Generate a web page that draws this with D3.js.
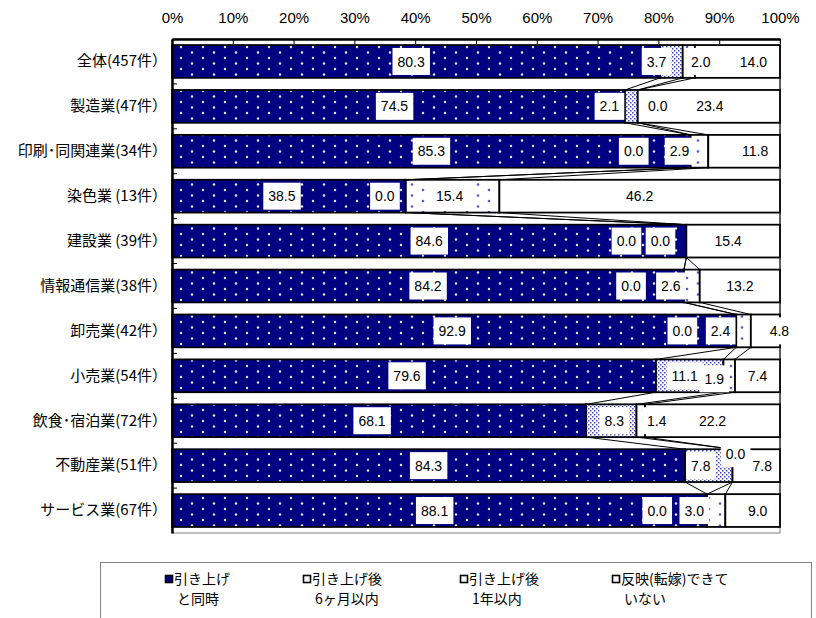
<!DOCTYPE html>
<html>
<head>
<meta charset="utf-8">
<script src="https://cdn.jsdelivr.net/npm/d3@7"></script>
<style>
  body { margin: 0; background: #fff; }
  svg { display: block; }
</style>
</head>
<body>
<svg id="chart" width="816" height="618"></svg>
<script>
// Industries (number of responses)
const categories = [
  "全体(457件）", "製造業(47件）", "印刷･同関連業(34件）", "染色業 (13件）",
  "建設業 (39件）", "情報通信業(38件）", "卸売業(42件）", "小売業(54件）",
  "飲食･宿泊業(72件）", "不動産業(51件）", "サービス業(67件）"
];

// Share of respondents (%) by timing of the price pass-through
const sameTime      = [80.3, 74.5, 85.3, 38.5, 84.6, 84.2, 92.9, 79.6, 68.1, 84.3, 88.1];
const within6Months = [ 3.7,  2.1,  0.0,  0.0,  0.0,  0.0,  0.0, 11.1,  8.3,  7.8,  0.0];
const within1Year   = [ 2.0,  0.0,  2.9, 15.4,  0.0,  2.6,  2.4,  1.9,  1.4,  0.0,  3.0];
const notPassed     = [14.0, 23.4, 11.8, 46.2, 15.4, 13.2,  4.8,  7.4, 22.2,  7.8,  9.0];

const seriesKeys  = ["sameTime", "within6Months", "within1Year", "notPassed"];
const seriesNames = [
  ["引き上げ", "と同時"],
  ["引き上げ後", "6ヶ月以内"],
  ["引き上げ後", "1年以内"],
  ["反映(転嫁)できて", "いない"]
];

const tickValues = [0, 10, 20, 30, 40, 50, 60, 70, 80, 90, 100];

// Hand-placed offsets [dx, dy] (px) for the value labels, so small segments stay readable
const labelNudge = [
  [[-5, 0], [-15, 0], [12, 0], [16, 0]],
  [[-4, 0], [-22, 0], [20, 0], [1, 0]],
  [[0, 0], [-57, 0], [-20, 0], [11, 0]],
  [[-7, 0], [-21, 0], [-3, 0], [0, 0]],
  [[0, 0], [-60, 0], [-26, 0], [-5, 0]],
  [[0, 0], [-53, 0], [-21, 0], [0, 0]],
  [[-2, 0], [-54, 0], [-23, 0], [14, 0]],
  [[-7, 0], [-5, 0], [-15, 3], [0, 0]],
  [[-7, 0], [3, 0], [16, 0], [0, 0]],
  [[0, 0], [-8, 0], [3, -12], [6, 0]],
  [[-5, 0], [-50, 0], [-22, 0], [5, 0]]
];

const rows = categories.map((c, i) => ({
  category: c,
  sameTime: sameTime[i],
  within6Months: within6Months[i],
  within1Year: within1Year[i],
  notPassed: notPassed[i]
}));

const svg = d3.select("#chart");
const numFont = "'Liberation Sans Narrow', 'Liberation Sans', Arial, sans-serif";
const jpFont = "'Noto Sans CJK JP', sans-serif";

const x = d3.scaleLinear().domain([0, 1]).range([172, 780]);
const y = d3.scaleBand().domain(categories).range([39, 533])
  .paddingInner(0.27).paddingOuter(0.135);

// Fill patterns for the four series
const defs = svg.append("defs");
const p1 = defs.append("pattern").attr("id", "pat0").attr("patternUnits", "userSpaceOnUse")
  .attr("width", 22).attr("height", 11);
p1.append("rect").attr("width", 22).attr("height", 11).attr("fill", "#000080");
p1.append("circle").attr("cx", 5).attr("cy", 3).attr("r", 1.2).attr("fill", "#e8e8ff");
p1.append("circle").attr("cx", 16).attr("cy", 8.5).attr("r", 1.2).attr("fill", "#e8e8ff");

const p2 = defs.append("pattern").attr("id", "pat1").attr("patternUnits", "userSpaceOnUse")
  .attr("width", 4).attr("height", 4);
p2.append("rect").attr("width", 4).attr("height", 4).attr("fill", "#ffffff");
p2.append("rect").attr("x", 0).attr("y", 0).attr("width", 1.5).attr("height", 1.5).attr("fill", "#4646c0");
p2.append("rect").attr("x", 2).attr("y", 2).attr("width", 1.5).attr("height", 1.5).attr("fill", "#4646c0");

const p3 = defs.append("pattern").attr("id", "pat2").attr("patternUnits", "userSpaceOnUse")
  .attr("width", 22).attr("height", 11);
p3.append("rect").attr("width", 22).attr("height", 11).attr("fill", "#ffffff");
p3.append("circle").attr("cx", 5).attr("cy", 3).attr("r", 1.3).attr("fill", "#5a5ad8");
p3.append("circle").attr("cx", 16).attr("cy", 8.5).attr("r", 1.3).attr("fill", "#5a5ad8");

const fills = ["url(#pat0)", "url(#pat1)", "url(#pat2)", "#ffffff"];

// Plot area frame
svg.append("rect")
  .attr("x", x(0)).attr("y", 39)
  .attr("width", x(1) - x(0)).attr("height", 533 - 39)
  .attr("fill", "none").attr("stroke", "#808080").attr("stroke-width", 1);

// 100% stacked layout
const stack = d3.stack().keys(seriesKeys).offset(d3.stackOffsetExpand);
const series = stack(rows);
const bw = y.bandwidth();

// Bars
svg.append("g").selectAll("g")
  .data(series)
  .join("g")
  .attr("fill", (d, i) => fills[i])
  .selectAll("rect")
  .data(d => d)
  .join("rect")
  .attr("x", d => x(d[0]))
  .attr("y", d => y(d.data.category))
  .attr("width", d => x(d[1]) - x(d[0]))
  .attr("height", bw)
  .attr("stroke", "#000")
  .attr("stroke-width", 1.8);

// Series lines linking segment boundaries of adjacent bars
const connectors = [];
series.forEach(s => {
  for (let i = 0; i < s.length - 1; i++) {
    connectors.push({
      x1: x(s[i][1]), y1: y(s[i].data.category) + bw,
      x2: x(s[i + 1][1]), y2: y(s[i + 1].data.category)
    });
  }
});
svg.append("g").selectAll("line")
  .data(connectors)
  .join("line")
  .attr("x1", d => d.x1).attr("y1", d => d.y1)
  .attr("x2", d => d.x2).attr("y2", d => d.y2)
  .attr("stroke", "#000").attr("stroke-width", 1);

// Top percentage axis
const xAxis = d3.axisTop(x)
  .tickValues(tickValues.map(v => v / 100))
  .tickFormat(d3.format(".0%"))
  .tickSize(-5).tickSizeOuter(0).tickPadding(16);
const gx = svg.append("g").attr("transform", "translate(0,39)").call(xAxis);
gx.select(".domain").attr("stroke", "#000").attr("stroke-width", 2.5);
gx.selectAll(".tick line").attr("stroke", "#000").attr("stroke-width", 1);
gx.selectAll(".tick text")
  .attr("fill", "#000")
  .style("font-family", numFont).style("font-size", "15px");

// Category axis with labels
const yAxis = d3.axisLeft(y).tickSize(0).tickPadding(5);
const gy = svg.append("g").attr("transform", `translate(${x(0)},0)`).call(yAxis);
gy.select(".domain").attr("stroke", "#000").attr("stroke-width", 2.5);
gy.selectAll(".tick text")
  .attr("fill", "#000")
  .style("font-family", jpFont).style("font-size", "15px");

// Category boundary ticks
const gap = y.step() * y.paddingInner();
const boundaries = categories.slice(1).map(c => y(c) - gap / 2);
svg.append("g").selectAll("line")
  .data(boundaries)
  .join("line")
  .attr("x1", x(0)).attr("x2", x(0) + 5)
  .attr("y1", d => d).attr("y2", d => d)
  .attr("stroke", "#000").attr("stroke-width", 1);

// Value labels on white boxes
const fmt = d3.format(".1f");
const labelData = [];
series.forEach((s, k) => {
  s.forEach((d, i) => {
    const nudge = labelNudge[i][k];
    labelData.push({
      text: fmt(rows[i][seriesKeys[k]]),
      cx: (x(d[0]) + x(d[1])) / 2 + nudge[0],
      cy: y(d.data.category) + bw / 2 + nudge[1]
    });
  });
});
const lg = svg.append("g").selectAll("g")
  .data(labelData)
  .join("g")
  .attr("transform", d => `translate(${d.cx},${d.cy})`);
lg.append("rect")
  .attr("fill", "#fff");
lg.append("text")
  .attr("text-anchor", "middle")
  .attr("dy", "0.36em")
  .style("font-family", numFont).style("font-size", "14px")
  .attr("fill", "#000")
  .text(d => d.text);
lg.each(function () {
  const g = d3.select(this);
  const bb = g.select("text").node().getBBox();
  g.select("rect")
    .attr("x", bb.x - 5).attr("y", -13.5)
    .attr("width", bb.width + 10).attr("height", 27);
});

// Legend
svg.append("rect")
  .attr("x", 100.5).attr("y", 562.5).attr("width", 711).attr("height", 70)
  .attr("fill", "#fff").attr("stroke", "#808080").attr("stroke-width", 1);
const legendX = [165, 303, 460, 612];
const legend = svg.append("g").selectAll("g")
  .data(seriesNames)
  .join("g")
  .attr("transform", (d, i) => `translate(${legendX[i]},0)`);
legend.append("rect")
  .attr("x", 0.5).attr("y", 575.5).attr("width", 7).attr("height", 7)
  .attr("fill", (d, i) => i === 0 ? "#000080" : "#fff")
  .attr("stroke", "#000").attr("stroke-width", 1.6);
legend.append("text")
  .attr("x", 9).attr("y", 584)
  .style("font-family", jpFont).style("font-size", "14px")
  .attr("fill", "#000")
  .text(d => d[0]);
legend.append("text")
  .attr("x", 12).attr("y", 604)
  .style("font-family", jpFont).style("font-size", "14px")
  .attr("fill", "#000")
  .text(d => d[1]);
</script>
</body>
</html>
